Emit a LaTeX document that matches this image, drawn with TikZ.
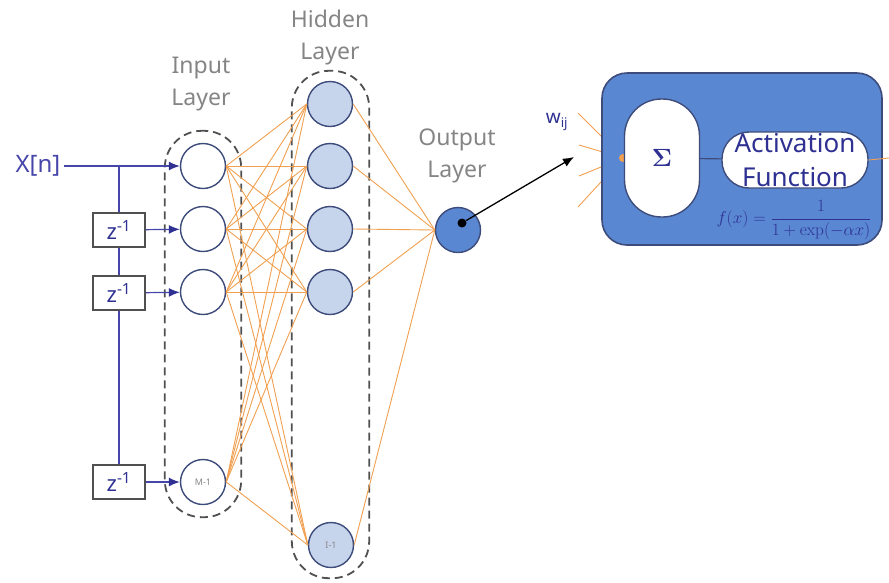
\documentclass[tikz,border=0pt]{standalone}
\usepackage[no-math]{fontspec}
\setmainfont{Noto Sans}
\usetikzlibrary{arrows.meta,fit,positioning}

\definecolor{wireorange}{HTML}{F0A050}
\definecolor{feedblue}{HTML}{4646AA}
\definecolor{navy}{HTML}{2E3192}
\definecolor{rimblue}{HTML}{3D4C7A}
\definecolor{hidfill}{HTML}{C6D4EC}
\definecolor{cellblue}{HTML}{5A87D2}
\definecolor{labelgray}{HTML}{858585}
\definecolor{boxgray}{HTML}{505050}

\begin{document}
\begin{tikzpicture}[x=1pt, y=-1pt, >={Latex[length=11pt,width=9pt]}, thick]
    \tikzstyle{neuron} = [draw=rimblue, line width=1.4pt, circle, minimum size=45pt, inner sep=0pt, fill=white, text=labelgray, font=\fontsize{9}{9}\selectfont]
    \tikzstyle{hidden} = [neuron, fill=hidfill]
    \tikzstyle{layerbox} = [draw=boxgray, line width=1.8pt, dash pattern=on 8pt off 5pt, rounded corners=37pt, inner xsep=15pt, inner ysep=12pt]
    \tikzstyle{layertext} = [align=center, text=labelgray, font=\fontsize{23}{32}\selectfont]
    \tikzstyle{delay} = [draw=boxgray, line width=1.8pt, fill=white, minimum width=52pt, minimum height=34pt, inner sep=0pt, text=navy, font=\fontsize{22}{22}\selectfont]
    \tikzstyle{feed} = [draw=feedblue, line width=1.2pt]
    \tikzstyle{tap} = [feed, -{Latex[length=11pt,width=9pt,color=navy]}]
    \tikzstyle{wire} = [draw=wireorange, line width=0.9pt]

    \useasboundingbox (0,0) rectangle (889,582);

    % input layer with tapped delay line
    \node [neuron] (in1) at (203,166) {};
    \node [neuron, below of=in1, node distance=63pt] (in2) {};
    \node [neuron, below of=in2, node distance=63pt] (in3) {};
    \node [neuron] (inM) at (203,482) {M-1};

    % hidden and output layers
    \node [hidden] (hid1) at (330,104) {};
    \node [hidden, below of=hid1, node distance=62pt] (hid2) {};
    \node [hidden, below of=hid2, node distance=63pt] (hid3) {};
    \node [hidden, below of=hid3, node distance=63pt] (hid4) {};
    \node [hidden] (hidI) at (331,545) {I-1};
    \node [neuron, fill=cellblue, draw=rimblue] (out) at (458,230) {};

    \node [layerbox, fit=(in1)(inM)] (inbox) {};
    \node [layerbox, fit=(hid1)(hidI), inner ysep=10pt] (hidbox) {};

    \node [layertext] (inlabel) at (201,84) {Input\\Layer};
    \node [layertext] (hidlabel) at (330,38) {Hidden\\Layer};
    \node [layertext] (outlabel) at (457,156) {Output\\Layer};

    % fully connected weights
    \foreach \i in {1,2,3,M}
        \foreach \h in {1,2,3,4,I}
            \draw [wire] (in\i.east) -- (hid\h.west);
    \foreach \h in {1,2,3,4,I}
        \draw [wire] (hid\h.east) -- (out.west);

    % delays z^-1
    \node [text=feedblue, font=\fontsize{24}{24}\selectfont] (xn) at (38,166) {X[n]};
    \node [delay] (d1) at (119,230) {z\textsuperscript{-1}};
    \node [delay] (d2) at (119,293) {z\textsuperscript{-1}};
    \node [delay] (d3) at (119,482) {z\textsuperscript{-1}};
    \coordinate (split) at (d1 |- xn);

    \draw [tap] (xn) -- (in1);
    \draw [feed] (split) -- (d1);
    \draw [feed] (d1) -- (d2);
    \draw [feed] (d2) -- (d3);
    \draw [tap] (d1) -- (in2);
    \draw [tap] (d2) -- (in3);
    \draw [tap] (d3) -- (inM);

    % incoming weights, drawn under the cell
    \coordinate (hub) at (623,158);
    \coordinate (w1) at (578,113);
    \coordinate (w2) at (579,145);
    \coordinate (w3) at (579,176);
    \coordinate (w4) at (578,207);
    \foreach \k in {1,...,4}
        \draw [wire] (w\k) -- (hub);

    % single neuron, zoomed in
    \node [draw=rimblue, line width=1.6pt, fill=cellblue, rounded corners=25pt, minimum width=280pt, minimum height=172pt] (cell) at (742,159) {};
    \fill [wireorange] (hub) circle (4pt);
    \node [draw=rimblue, line width=1.4pt, fill=white, rounded corners=37pt, minimum width=75pt, minimum height=118pt, font=\boldmath\fontsize{24}{24}\selectfont, text=navy] (sum) at (662,158) {$\Sigma$};
    \node [draw=rimblue, line width=1.4pt, fill=white, rounded corners=27pt, minimum width=146pt, minimum height=56pt, inner sep=0pt, align=center, text=navy, font=\fontsize{26}{34}\selectfont] (act) at (795,160) {Activation\\Function};
    \node [text=navy, font=\fontsize{16}{16}\selectfont] (fx) at (794,220) {$f(x)=\displaystyle\frac{1}{1+\exp(-\alpha x)}$};
    \draw [draw=rimblue, line width=1.2pt] (sum) -- (act);

    % output stub and weight label
    \coordinate (stub) at (889,158);
    \draw [wire] (act.east) -- (stub);
    \node [text=navy, font=\bfseries\fontsize{19}{19}\selectfont] (wij) at (557,122) {w\textsubscript{ij}};

    % pointer from output neuron
    \node [circle, fill=black, inner sep=0pt, minimum size=9pt] (dot) at (462,223) {};
    \coordinate (tip) at (574,157);
    \draw [->, line width=1.3pt] (dot) -- (tip);
\end{tikzpicture}
\end{document}
